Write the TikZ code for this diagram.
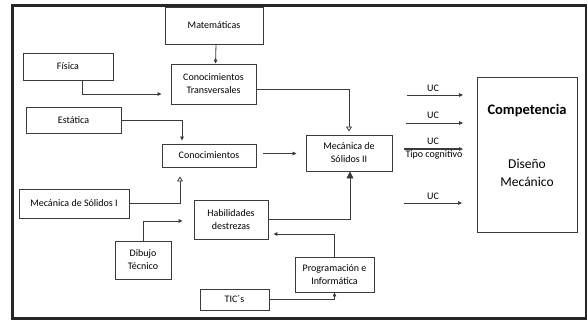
\documentclass[tikz,border=0pt]{standalone}
\usepackage{fontspec}
\setmainfont{Carlito}
\usetikzlibrary{arrows.meta,calc}
\definecolor{ln}{HTML}{3A3A3A}
\tikzset{
  box/.style={draw=ln, line width=0.9pt, inner sep=0pt, align=center, font=\fontsize{10}{13}\selectfont, text=black},
  con/.style={draw=ln, line width=0.8pt},
  arr/.style={con, -{Triangle[length=4pt,width=3.6pt]}},
  oarr/.style={con, -{Triangle[open,length=5pt,width=6pt]}},
  barr/.style={con, -{Triangle[length=7pt,width=7pt]}},
  lbl/.style={font=\fontsize{10}{12}\selectfont, inner sep=0pt}
}
\begin{document}
\begin{tikzpicture}[x=1pt,y=-1pt]
\useasboundingbox (0,0) rectangle (588,322);
\draw[line width=2.5pt, draw=black!85] (12.5,5.5) rectangle (586,318.5);
\node[box, minimum width=98pt, minimum height=37pt] (mat) at (214,25.5) {Matemáticas};
\node[box, minimum width=90pt, minimum height=27pt] (fis) at (68,66.5) {Física};
\node[box, minimum width=85pt, minimum height=40pt] (ct) at (213.5,84) {Conocimientos\\Transversales};
\node[box, minimum width=95pt, minimum height=26pt] (est) at (73.5,120) {Estática};
\node[box, minimum width=94pt, minimum height=23pt] (cono) at (209,155.5) {Conocimientos};
\node[box, minimum width=110pt, minimum height=29pt] (ms1) at (74,203.5) {Mecánica de Sólidos I};
\node[box, minimum width=74pt, minimum height=39pt] (hab) at (231,219.5) {Habilidades\\destrezas};
\node[box, minimum width=56pt, minimum height=38pt] (dib) at (143,260) {Dibujo\\Técnico};
\node[box, minimum width=69pt, minimum height=21pt] (tic) at (234.5,299.5) {TIC´s};
\node[box, minimum width=79pt, minimum height=35pt] (prog) at (334.5,274.5) {Programación e\\Informática};
\node[box, minimum width=86pt, minimum height=36pt] (ms2) at (349,153) {Mecánica de\\Sólidos II};
\node[box, minimum width=100pt, minimum height=155pt] (comp) at (527,154.5) {};
\node[font=\bfseries\fontsize{14.5}{16}\selectfont, inner sep=0pt] (ctit) at (527,111) {Competencia};
\node[font=\fontsize{13.5}{18}\selectfont, align=center, inner sep=0pt] (dis) at (527,173) {Diseño\\Mecánico};

\draw[arr] ([xshift=2pt]mat.south) -- ([xshift=2pt]ct.north);
\draw[arr] ([xshift=14pt]fis.south) |- ([shift={(-9pt,-10pt)}]ct.west);
\draw[oarr] ([yshift=-5pt]ct.east) -| ([yshift=3pt]ms2.north);
\draw[arr] (est.east) -| ([shift={(-27pt,3pt)}]cono.north);
\draw[arr, shorten <=7pt, shorten >=9pt] ([yshift=2pt]cono.east) -- ([yshift=2pt]cono.east -| ms2.west);
\draw[oarr] (ms1.east) -| ([shift={(-29pt,-9pt)}]cono.south);
\draw[arr] (dib.north) |- ([shift={(-11pt,-1.5pt)}]hab.west);
\draw[barr] (hab.east) -| ([xshift=1pt]ms2.south);
\draw[arr] (prog.north) |- ([shift={(5pt,-14.5pt)}]hab.east);
\draw[arr] (tic.east) -| (prog.south);

\coordinate (u1s) at (407,95); \coordinate (u1e) at (463,95);
\coordinate (u2s) at (406,123); \coordinate (u2e) at (463,123);
\coordinate (u3s) at (404,149); \coordinate (u3e) at (463,149);
\coordinate (u4s) at (404,203); \coordinate (u4e) at (462,203);
\draw[arr] (u1s) -- (u1e);
\draw[arr] (u2s) -- (u2e);
\draw[arr, line width=1.1pt] (u3s) -- (u3e);
\draw[arr] (u4s) -- (u4e);
\node[lbl] (l1) at (433,88) {UC};
\node[lbl] (l2) at (433,115) {UC};
\node[lbl] (l3) at (433,141) {UC};
\node[lbl] (l3b) at (434,155) {Tipo cognitivo};
\node[lbl] (l4) at (433,196) {UC};
\end{tikzpicture}
\end{document}
